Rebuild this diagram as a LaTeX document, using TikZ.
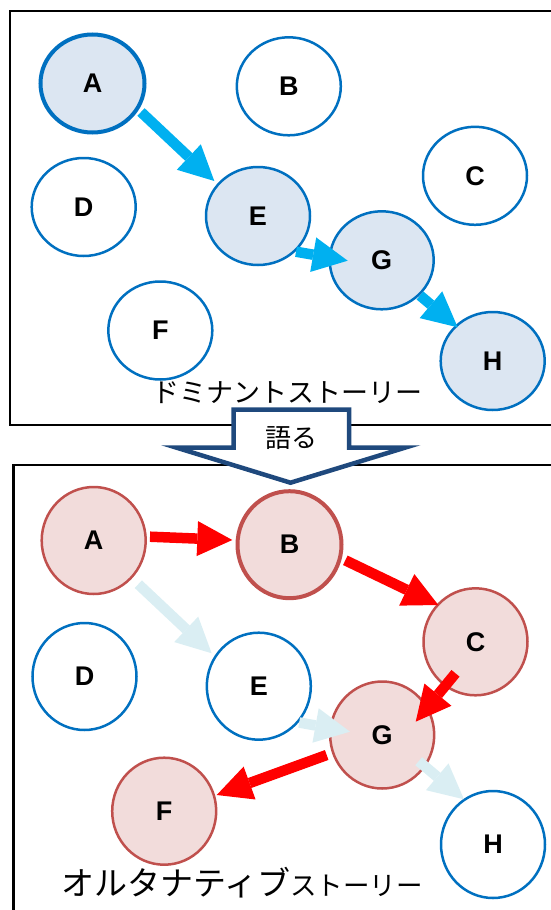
\documentclass[tikz,border=0pt]{standalone}
\usepackage{fontspec}
\setmainfont{Liberation Sans}
\newfontfamily\jpfont{Noto Sans CJK JP}
\usetikzlibrary{arrows.meta,calc,shapes.geometric}

\definecolor{topfill}{HTML}{DCE6F2}
\definecolor{nodeblue}{HTML}{0070C0}
\definecolor{flowcyan}{HTML}{00B0F0}
\definecolor{altfill}{HTML}{F2DCDB}
\definecolor{altred}{HTML}{C0504D}
\definecolor{flowred}{HTML}{FF0000}
\definecolor{faintflow}{HTML}{DAEEF3}
\definecolor{navy}{HTML}{1F497D}

\begin{document}
\begin{tikzpicture}[x=1pt,y=-1pt,
  story/.style={ellipse, draw=nodeblue, fill=white, line width=2.5pt,
    inner sep=0pt, outer sep=0pt, minimum width=104pt,
    font=\fontsize{27pt}{27pt}\selectfont\bfseries},
  upper/.style={story, minimum height=98pt},
  lower/.style={story, minimum height=107pt},
  lit/.style={fill=topfill},
  alt/.style={fill=altfill, draw=altred},
  key/.style={line width=4pt},
  flow/.style={line width=10.5pt,
    -{Triangle[length=35pt,width=35pt,line width=0pt]}},
  frame/.style={draw=black, line width=2.5pt},
  caption/.style={font=\jpfont\fontsize{27pt}{27pt}\selectfont, inner sep=0pt}
]
\useasboundingbox (0,0) rectangle (551,910);
\clip (0,0) rectangle (551,910);

% panel frames
\draw[frame] (10,11) rectangle (565,425);
\draw[frame] (13.3,465) rectangle (565,925);

% dominant story
\node[upper, lit, key] (tA) at (92.5,83.5) {A};
\node[upper] (tB) at (288.8,86.3) {B};
\node[upper] (tC) at (475,175.8) {C};
\node[upper] (tD) at (83.7,207) {D};
\node[upper, lit] (tE) at (258,216) {E};
\node[upper] (tF) at (160.3,330.5) {F};
\node[upper, lit] (tG) at (381.7,260.3) {G};
\node[upper, lit] (tH) at (492.7,361) {H};

\draw[flow, flowcyan] ($(tA)+(48.5,28.5)$) -- ($(tE)+(-43.7,-35)$);
\draw[flow, flowcyan] ($(tE)+(38,35.7)$) -- ($(tG)+(-34,0.4)$);
\draw[flow, flowcyan] ($(tG)+(38.3,35.2)$) -- ($(tH)+(-35,-33.7)$);

\node[caption] (domtitle) at (287,393) {ドミナントストーリー};

% alternative story
\node[lower, alt] (bA) at (93.7,540.5) {A};
\node[lower, alt, key] (bB) at (289.5,544.7) {B};
\node[lower, alt] (bC) at (475.5,641.8) {C};
\node[lower] (bD) at (84.5,676.5) {D};
\node[lower] (bE) at (258.8,686.2) {E};
\node[lower, alt] (bF) at (164.2,811.2) {F};
\node[lower, alt] (bG) at (382.2,735) {G};
\node[lower] (bH) at (493,844.5) {H};

\draw[flow, faintflow] ($(bA)+(44.6,43.7)$) -- ($(bE)+(-47.1,-32.9)$);
\draw[flow, faintflow] ($(bE)+(40.4,36.3)$) -- ($(bG)+(-32.2,-3.3)$);
\draw[flow, faintflow] ($(bG)+(36.5,26.2)$) -- ($(bH)+(-29,-45.2)$);

\draw[flow, flowred] ($(bA)+(56.3,-3.8)$) -- ($(bB)+(-57.2,-4.7)$);
\draw[flow, flowred] ($(bB)+(55.8,15.6)$) -- ($(bC)+(-37.2,-36.8)$);
\draw[flow, flowred] ($(bC)+(-20,31.5)$) -- ($(bG)+(33.5,-13.3)$);
\draw[flow, flowred] ($(bG)+(-55.5,20)$) -- ($(bF)+(52.5,-16.2)$);

\node[caption, anchor=base west] (alttitle) at (61,895)
  {{\fontsize{33pt}{33pt}\selectfont オルタナティブ}{\fontsize{26.5pt}{26.5pt}\selectfont ストーリー}};

% block arrow between the panels
\draw[draw=navy, fill=white, line width=4.5pt, line join=miter]
  (233.5,409.5) -- (349,409.5) -- (349,447.5) -- (405.5,447.5)
  -- (290.5,482.7) -- (176,447.5) -- (233.5,447.5) -- cycle;
\node[caption, font=\jpfont\fontsize{26pt}{26pt}\selectfont] (tell) at (291,438) {語る};
\end{tikzpicture}
\end{document}
